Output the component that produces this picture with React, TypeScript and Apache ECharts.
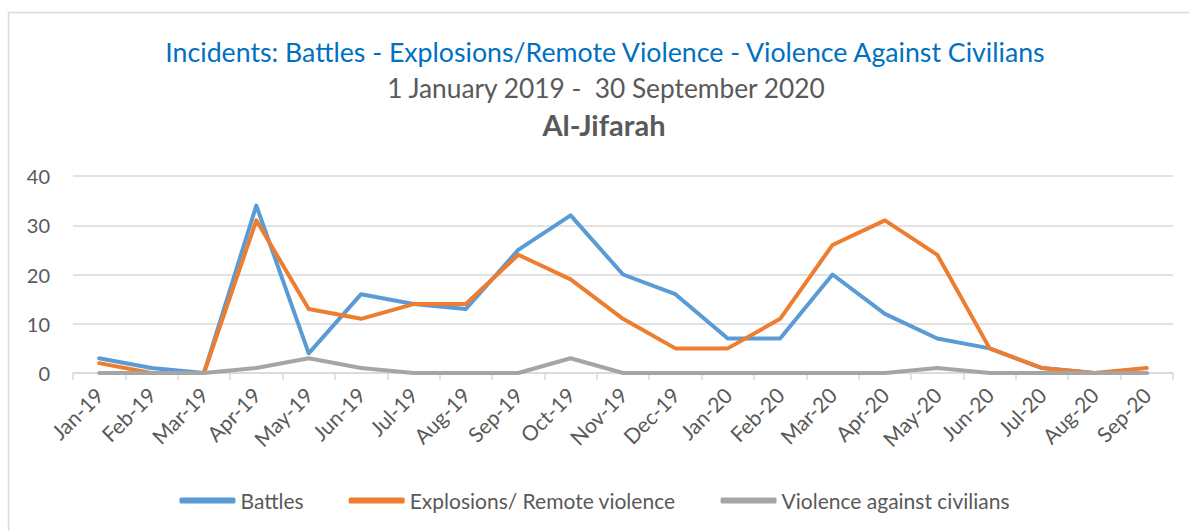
import React, { useEffect, useRef } from "react";
import * as echarts from "echarts";

const categories = [
  "Jan-19", "Feb-19", "Mar-19", "Apr-19", "May-19", "Jun-19", "Jul-19",
  "Aug-19", "Sep-19", "Oct-19", "Nov-19", "Dec-19", "Jan-20", "Feb-20",
  "Mar-20", "Apr-20", "May-20", "Jun-20", "Jul-20", "Aug-20", "Sep-20",
];
const battles = [3, 1, 0, 34, 4, 16, 14, 13, 25, 32, 20, 16, 7, 7, 20, 12, 7, 5, 1, 0, 0];
const explosions = [2, 0, 0, 31, 13, 11, 14, 14, 24, 19, 11, 5, 5, 11, 26, 31, 24, 5, 1, 0, 1];
const civilians = [0, 0, 0, 1, 3, 1, 0, 0, 0, 3, 0, 0, 0, 0, 0, 0, 1, 0, 0, 0, 0];
const yTicks = [0, 10, 20, 30, 40];

const FONT = "Lato, 'Open Sans', sans-serif";

export default function App() {
  const ref = useRef<HTMLDivElement>(null);
  useEffect(() => {
    if (!ref.current) return;
    const chart = echarts.init(ref.current, null, { renderer: "svg" });
    const mk = (name: string, data: number[], color: string) => ({
      name,
      type: "line",
      data,
      symbol: "none",
      lineStyle: { width: 4, color, cap: "round", join: "round" },
      itemStyle: { color },
    });
    chart.setOption({
      animation: false,
      backgroundColor: "#ffffff",
      textStyle: { fontFamily: FONT },
      graphic: [
        {
          type: "rect",
          shape: { x: 8.5, y: 12.5, width: 1200, height: 530 },
          style: { fill: "none", stroke: "#d9d9d9", lineWidth: 1.5 },
          silent: true,
        },
        {
          type: "text",
          x: 605, y: 52,
          style: {
            text: "Incidents: Battles - Explosions/Remote Violence - Violence Against Civilians",
            fill: "#0070C0", font: `26.7px ${FONT}`, align: "center", verticalAlign: "middle",
          },
        },
        {
          type: "text",
          x: 606, y: 88,
          style: {
            text: "1 January 2019 -  30 September 2020",
            fill: "#595959", font: `26.3px ${FONT}`, align: "center", verticalAlign: "middle",
          },
        },
        {
          type: "text",
          x: 604, y: 124,
          style: {
            text: "Al-Jifarah",
            fill: "#595959", font: `bold 29px ${FONT}`, align: "center", verticalAlign: "middle",
          },
        },
      ],
      legend: {
        top: 485,
        left: "center",
        itemWidth: 56,
        itemHeight: 6,
        itemGap: 45,
        icon: "roundRect",
        textStyle: { color: "#595959", fontSize: 21, fontFamily: FONT },
        data: ["Battles", "Explosions/ Remote violence", "Violence against civilians"],
      },
      grid: { left: 73, right: 16, top: 176, bottom: 158, containLabel: false },
      xAxis: {
        type: "category",
        data: categories,
        boundaryGap: true,
        axisLine: { lineStyle: { color: "#d9d9d9", width: 1.5 } },
        axisTick: { show: true, length: 7, lineStyle: { color: "#d9d9d9", width: 1.5 }, alignWithLabel: false },
        axisLabel: { rotate: 45, color: "#595959", fontSize: 21, margin: 18, interval: 0, fontFamily: FONT },
      },
      yAxis: {
        type: "value",
        min: yTicks[0],
        max: yTicks[yTicks.length - 1],
        interval: 10,
        axisLine: { show: false },
        axisTick: { show: false },
        axisLabel: { color: "#595959", fontSize: 20, margin: 23, fontFamily: FONT },
        splitLine: { lineStyle: { color: "#d9d9d9", width: 1.5 } },
      },
      series: [
        mk("Battles", battles, "#5B9BD5"),
        mk("Explosions/ Remote violence", explosions, "#ED7D31"),
        mk("Violence against civilians", civilians, "#A5A5A5"),
      ],
    });
    return () => chart.dispose();
  }, []);
  return (
    <div
      ref={ref}
      style={{ position: "absolute", left: 0, top: 0, width: 1189, height: 531 }}
    />
  );
}
